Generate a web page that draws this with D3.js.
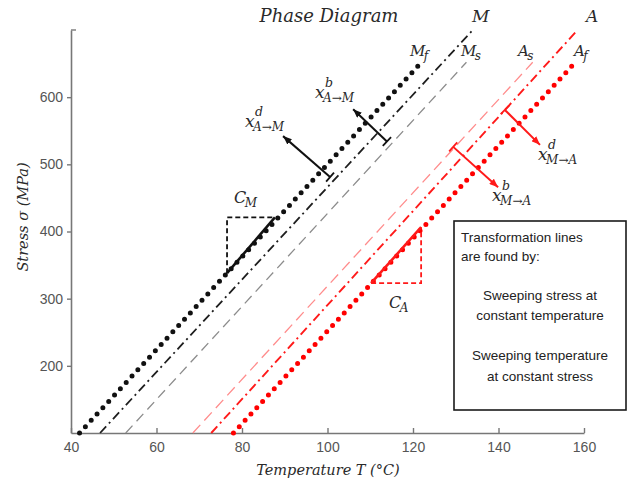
<!DOCTYPE html>
<html>
<head>
<meta charset="utf-8">
<script src="https://cdn.jsdelivr.net/npm/d3@7"></script>
<style>
  body { margin: 0; background: #fff; }
  svg { display: block; }
</style>
</head>
<body>
<div id="chart"></div>
<script>
// transformation lines: start / end points (temperature C, stress MPa)
var lineNames = ['Mf', 'M', 'Ms', 'As', 'A', 'Af'];
var startT = [42, 46.8, 52.8, 68.5, 72.8, 78];
var startS = [100, 100, 100, 100, 100, 100];
var endT = [122, 134, 132.5, 148, 158.5, 158];
var endS = [652, 700, 652, 652, 700, 652];

// perpendicular arrows (tail -> head)
var arrowNames = ['xdAM', 'xbAM', 'xdMA', 'xbMA'];
var arrowT0 = [100.6, 113.9, 141.5, 129.4];
var arrowS0 = [481, 534, 581, 526];
var arrowT1 = [89.6, 106, 149.7, 139.9];
var arrowS1 = [542, 582, 529, 466];

// slope triangles: [bottom-left], [top-right]
var triNames = ['CM', 'CA'];
var triT = [[76.5, 87.7], [110.2, 121.9]];
var triS = [[338, 421], [323, 406.5]];

var xTicks = [40, 60, 80, 100, 120, 140, 160];
var yTicks = [200, 300, 400, 500, 600];

var legendLines = ['Transformation lines', 'are found by:', 'Sweeping stress at',
                   'constant temperature', 'Sweeping temperature', 'at constant stress'];

var styles = {
  Mf: {stroke: '#111', w: 5, dash: '0 8.6', cap: 'round'},
  M:  {stroke: '#1e1e1e', w: 1.8, dash: '9 4 2 4', cap: 'butt'},
  Ms: {stroke: '#8c8c8c', w: 1.3, dash: '10 6', cap: 'butt'},
  As: {stroke: '#ff8c8c', w: 1.3, dash: '11 6', cap: 'butt'},
  A:  {stroke: '#ff1a1a', w: 1.9, dash: '9 4 2 4', cap: 'butt'},
  Af: {stroke: '#ff0000', w: 5, dash: '0 8.6', cap: 'round'}
};

var W = 629, H = 482;
var svg = d3.select('#chart').append('svg')
  .attr('width', W).attr('height', H)
  .style('background', '#fff');

var x = d3.scaleLinear().domain([40, 160]).range([71, 584]);
var y = d3.scaleLinear().domain([100, 700]).range([433, 30]);

var mathFont = '"DejaVu Serif", serif';
var textCol = '#2a2a2a';
var axisCol = '#777';

// axes
var xAxis = svg.append('g')
  .attr('transform', 'translate(0,' + y(100) + ')')
  .call(d3.axisBottom(x).tickValues(xTicks).tickSizeInner(-5).tickSizeOuter(0).tickPadding(9));
var yAxis = svg.append('g')
  .attr('transform', 'translate(' + x(40) + ',0)')
  .call(d3.axisLeft(y).tickValues(yTicks).tickSizeInner(4).tickSizeOuter(0).tickPadding(4));

[xAxis, yAxis].forEach(function(g) {
  g.select('.domain').attr('stroke', axisCol).attr('stroke-width', 1.6);
  g.selectAll('.tick line').attr('stroke', axisCol).attr('stroke-width', 1.4);
  g.selectAll('.tick text')
    .attr('fill', '#555')
    .style('font-family', '"Liberation Sans", Arial, sans-serif')
    .style('font-size', '14px');
});
// little tick at the top of the y axis
svg.append('line')
  .attr('x1', x(40)).attr('x2', x(40) + 5)
  .attr('y1', y(700)).attr('y2', y(700))
  .attr('stroke', axisCol).attr('stroke-width', 1.4);

// transformation lines
lineNames.forEach(function(n, i) {
  var s = styles[n];
  svg.append('line')
    .attr('x1', x(startT[i])).attr('y1', y(startS[i]))
    .attr('x2', x(endT[i])).attr('y2', y(endS[i]))
    .attr('stroke', s.stroke)
    .attr('stroke-width', s.w)
    .attr('stroke-dasharray', s.dash)
    .attr('stroke-linecap', s.cap);
});

// slope triangles
triNames.forEach(function(n, i) {
  var col = n === 'CM' ? '#111' : '#ff1a1a';
  var x0 = x(triT[i][0]), x1 = x(triT[i][1]);
  var y0 = y(triS[i][0]), y1 = y(triS[i][1]);
  // hypotenuse along the line
  svg.append('line')
    .attr('x1', x0).attr('y1', y0).attr('x2', x1).attr('y2', y1)
    .attr('stroke', col).attr('stroke-width', 2.6);
  // dashed legs
  var pts = n === 'CM'
    ? [[x0, y0], [x0, y1], [x1, y1]]
    : [[x0, y0], [x1, y0], [x1, y1]];
  svg.append('path')
    .attr('d', d3.line()(pts))
    .attr('fill', 'none').attr('stroke', col)
    .attr('stroke-width', 1.8).attr('stroke-dasharray', '5 3');
});

// arrows
var defs = svg.append('defs');
[['blk', '#111'], ['red', '#ff1a1a']].forEach(function(m) {
  defs.append('marker')
    .attr('id', 'head-' + m[0])
    .attr('viewBox', '0 -4 10 8')
    .attr('refX', 10).attr('refY', 0)
    .attr('markerUnits', 'userSpaceOnUse')
    .attr('markerWidth', 9).attr('markerHeight', 7)
    .attr('orient', 'auto')
    .append('path').attr('d', 'M0,-4L10,0L0,4Z').attr('fill', m[1]);
});

arrowNames.forEach(function(n, i) {
  var red = n.indexOf('MA') > 0;
  var col = red ? '#ff1a1a' : '#111';
  var ax0 = x(arrowT0[i]), ay0 = y(arrowS0[i]);
  var ax1 = x(arrowT1[i]), ay1 = y(arrowS1[i]);
  svg.append('line')
    .attr('x1', ax0).attr('y1', ay0).attr('x2', ax1).attr('y2', ay1)
    .attr('stroke', col).attr('stroke-width', 2)
    .attr('marker-end', 'url(#head-' + (red ? 'red' : 'blk') + ')');
  // tail bar
  var dx = ax1 - ax0, dy = ay1 - ay0, len = Math.sqrt(dx * dx + dy * dy);
  var px = -dy / len * 6, py = dx / len * 6;
  svg.append('line')
    .attr('x1', ax0 - px).attr('y1', ay0 - py)
    .attr('x2', ax0 + px).attr('y2', ay0 + py)
    .attr('stroke', col).attr('stroke-width', 1.8);
});

// math-style labels, sub/sup placed after the measured main glyph
function mathLabel(px, py, main, sup, sub, size) {
  var g = svg.append('g').attr('fill', textCol)
    .style('font-family', mathFont).style('font-style', 'italic');
  var t = g.append('text').attr('x', px).attr('y', py).style('font-size', size + 'px').text(main);
  var w = t.node().getComputedTextLength();
  if (sup) g.append('text').attr('x', px + w + 0.5).attr('y', py - 11)
    .style('font-size', '12.5px').text(sup);
  if (sub) g.append('text').attr('x', px + w - 1.5).attr('y', py + 4)
    .style('font-size', '12px').text(sub);
}

mathLabel(472, 22, 'M', null, null, 17);
mathLabel(586, 22, 'A', null, null, 17);
mathLabel(410, 56, 'M', null, 'f', 15);
mathLabel(461, 56, 'M', null, 's', 15);
mathLabel(518, 56, 'A', null, 's', 15);
mathLabel(574, 56, 'A', null, 'f', 15);

mathLabel(245, 127, 'x', 'd', 'A\u2192M', 17);
mathLabel(315, 98, 'x', 'b', 'A\u2192M', 17);
mathLabel(538, 160, 'x', 'd', 'M\u2192A', 17);
mathLabel(492, 201, 'x', 'b', 'M\u2192A', 17);

mathLabel(234, 203, 'C', null, 'M', 16);
mathLabel(389, 308, 'C', null, 'A', 16);

// title and axis titles
svg.append('text')
  .attr('x', 329).attr('y', 22)
  .attr('text-anchor', 'middle')
  .attr('fill', textCol)
  .style('font-family', mathFont).style('font-style', 'italic')
  .style('font-size', '18px')
  .text('Phase Diagram');

svg.append('text')
  .attr('x', 328).attr('y', 475)
  .attr('text-anchor', 'middle')
  .attr('fill', textCol)
  .style('font-family', mathFont).style('font-style', 'italic')
  .style('font-size', '14.5px')
  .text('Temperature T (\u00B0C)');

svg.append('text')
  .attr('transform', 'translate(28,217) rotate(-90)')
  .attr('text-anchor', 'middle')
  .attr('fill', textCol)
  .style('font-family', mathFont).style('font-style', 'italic')
  .style('font-size', '14.5px')
  .text('Stress \u03C3 (MPa)');

// note box
var box = svg.append('g');
box.append('rect')
  .attr('x', 454).attr('y', 221).attr('width', 172).attr('height', 189)
  .attr('fill', '#fff').attr('stroke', '#1a1a1a').attr('stroke-width', 1.6);
var lineY = [242, 261, 300, 320, 360, 381];
legendLines.forEach(function(t, i) {
  box.append('text')
    .attr('x', i < 2 ? 461 : 540)
    .attr('y', lineY[i])
    .attr('text-anchor', i < 2 ? 'start' : 'middle')
    .attr('fill', '#222')
    .style('font-family', '"Liberation Sans", Arial, sans-serif')
    .style('font-size', '13.5px')
    .text(t);
});
</script>
</body>
</html>
